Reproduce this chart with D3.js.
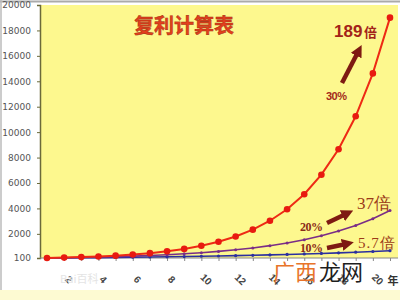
<!DOCTYPE html>
<html>
<head>
<meta charset="utf-8">
<script src="https://cdn.jsdelivr.net/npm/d3@7"></script>
<style>
  body { margin: 0; background: #fff; }
  svg { display: block; font-family: "Liberation Sans", "Noto Sans CJK SC", sans-serif; }
</style>
</head>
<body>
<svg id="chart" width="400" height="300"></svg>
<script>
// years 0..20, principal 100
const years = [0, 1, 2, 3, 4, 5, 6, 7, 8, 9, 10, 11, 12, 13, 14, 15, 16, 17, 18, 19, 20];
const rate30 = [100, 130, 169, 220, 286, 371, 483, 627, 816, 1060, 1379, 1792, 2330, 3029, 3937, 5119, 6654, 8650, 11246, 14619, 19005];
const rate20 = [100, 120, 144, 173, 207, 249, 299, 358, 430, 516, 619, 743, 892, 1070, 1284, 1541, 1849, 2219, 2662, 3195, 3834];
const rate10 = [100, 110, 121, 133, 146, 161, 177, 195, 214, 236, 259, 285, 314, 345, 380, 418, 459, 505, 556, 612, 673];
const yTicks = [100, 2000, 4000, 6000, 8000, 10000, 12000, 14000, 16000, 18000, 20000];
const xLabels = [2, 4, 6, 8, 10, 12, 14, 16, 18, 20];

const svg = d3.select("#chart");
const plot = { left: 40, right: 398, top: 5, bottom: 258 };

const x = d3.scaleLinear().domain([0, 20]).range([47, 390]);
const y = d3.scaleLinear().domain([100, 20000]).range([plot.bottom, plot.top]);

// frame + bottom strip
svg.append("rect").attr("x", 0).attr("y", 290).attr("width", 400).attr("height", 10).attr("fill", "#fdfad2");
svg.append("line").attr("x1", 0).attr("x2", 400).attr("y1", 1.5).attr("y2", 1.5).attr("stroke", "#aaa").attr("stroke-width", 2);
svg.append("line").attr("x1", 1).attr("x2", 1).attr("y1", 0).attr("y2", 290).attr("stroke", "#bbb").attr("stroke-width", 1.5);

// plot background
svg.append("rect")
  .attr("x", plot.left).attr("y", plot.top)
  .attr("width", plot.right - plot.left).attr("height", plot.bottom - plot.top)
  .attr("fill", "#fdf88e");

// y axis
const yAxis = svg.append("g")
  .attr("transform", `translate(${plot.left},0)`)
  .call(d3.axisLeft(y).tickValues(yTicks).tickFormat(d3.format("d")).tickSize(3).tickPadding(6));
yAxis.select(".domain").attr("stroke", "#6b6a3a").attr("stroke-width", 1.5);
yAxis.selectAll(".tick line").attr("stroke", "#6b6a3a");
yAxis.selectAll("text").attr("fill", "#555").attr("font-size", 9).attr("font-family", "DejaVu Sans");

// x axis
const xAxis = svg.append("g")
  .attr("transform", `translate(0,${plot.bottom})`)
  .call(d3.axisBottom(x).tickValues(years).tickSize(3).tickFormat(""));
xAxis.select(".domain").attr("d", `M${plot.left},0H${plot.right}`).attr("stroke", "#888");
xAxis.selectAll(".tick line").attr("stroke", "#888");

svg.append("g").selectAll("text")
  .data(xLabels)
  .join("text")
  .attr("transform", (d) => `translate(${x(d) - 13},${280}) rotate(45)`)
  .attr("text-anchor", "middle")
  .attr("dominant-baseline", "middle")
  .attr("font-size", 10)
  .attr("font-weight", "bold")
  .attr("fill", "#444")
  .text((d) => d);

svg.append("text")
  .attr("x", 393).attr("y", 285)
  .attr("text-anchor", "middle")
  .attr("font-family", "Noto Sans CJK SC")
  .attr("font-size", 11).attr("font-weight", "bold").attr("fill", "#333")
  .text("年");

// lines
const series = [
  { values: rate10, color: "#2b2fa0", width: 1.6, r: 1.6 },
  { values: rate20, color: "#7a2d86", width: 1.6, r: 1.5 },
  { values: rate30, color: "#ee2a14", width: 2, r: 3.3 },
];
const line = d3.line().x((d, i) => x(years[i])).y((d) => y(d));
series.forEach((s) => {
  svg.append("path")
    .datum(s.values)
    .attr("d", line)
    .attr("fill", "none")
    .attr("stroke", s.color)
    .attr("stroke-width", s.width);
  svg.append("g").selectAll("circle")
    .data(s.values)
    .join("circle")
    .attr("cx", (d, i) => x(years[i]))
    .attr("cy", (d) => y(d))
    .attr("r", s.r)
    .attr("fill", s.color === "#ee2a14" ? "#e81a10" : s.color);
});

// title
svg.append("text")
  .attr("x", 184).attr("y", 33)
  .attr("text-anchor", "middle")
  .attr("font-family", "Noto Sans CJK SC")
  .attr("font-size", 20).attr("font-weight", "bold")
  .attr("fill", "#e2401c").attr("stroke", "#a02a10").attr("stroke-width", 0.4)
  .text("复利计算表");

// arrows
const defs = svg.append("defs");
defs.append("marker")
  .attr("id", "head")
  .attr("markerUnits", "userSpaceOnUse")
  .attr("markerWidth", 12).attr("markerHeight", 12)
  .attr("viewBox", "0 0 12 12")
  .attr("refX", 4).attr("refY", 6)
  .attr("orient", "auto")
  .append("path")
  .attr("d", "M0,0 L12,6 L0,12 Z")
  .attr("fill", "#7e1a12");

const arrows = [
  [342, 83, 358, 52],
  [327, 223, 346, 214],
  [327, 248, 346, 244],
];
svg.append("g").selectAll("line")
  .data(arrows)
  .join("line")
  .attr("x1", (d) => d[0]).attr("y1", (d) => d[1])
  .attr("x2", (d) => d[2]).attr("y2", (d) => d[3])
  .attr("stroke", "#7e1a12").attr("stroke-width", 4.5)
  .attr("marker-end", "url(#head)");

// annotations
svg.append("text").attr("x", 334).attr("y", 37)
  .attr("font-family", "Liberation Sans").attr("font-size", 17).attr("font-weight", "bold")
  .attr("fill", "#a32318").text("189");
svg.append("text").attr("x", 364).attr("y", 37)
  .attr("font-family", "Noto Sans CJK SC").attr("font-size", 13).attr("font-weight", "bold")
  .attr("fill", "#a32318").text("倍");
svg.append("text").attr("x", 326).attr("y", 100)
  .attr("font-family", "Liberation Sans").attr("font-size", 11).attr("font-weight", "bold")
  .attr("fill", "#a32a1a").attr("letter-spacing", -0.5).text("30%");

svg.append("text").attr("x", 357).attr("y", 209)
  .attr("font-family", "Liberation Serif").attr("font-size", 17)
  .attr("fill", "#9b3a18").text("37倍");
svg.append("text").attr("x", 300).attr("y", 231)
  .attr("font-family", "Liberation Serif").attr("font-size", 12).attr("font-weight", "bold")
  .attr("fill", "#8a2a18").attr("letter-spacing", -0.5).text("20%");

svg.append("text").attr("x", 358).attr("y", 248)
  .attr("font-family", "Liberation Serif").attr("font-size", 15)
  .attr("fill", "#9b3a18").attr("letter-spacing", 1).text("5.7倍");
svg.append("text").attr("x", 300).attr("y", 252)
  .attr("font-family", "Liberation Serif").attr("font-size", 12).attr("font-weight", "bold")
  .attr("fill", "#8a2a18").attr("letter-spacing", -0.5).text("10%");

// watermarks
svg.append("text").attr("x", 60).attr("y", 283)
  .attr("font-family", "Noto Sans CJK SC").attr("font-size", 11)
  .attr("fill", "#e4e4e4").text("Bai百科");
svg.append("text").attr("x", 273).attr("y", 280)
  .attr("font-family", "Noto Sans CJK SC").attr("font-size", 22)
  .attr("fill", "#e8742a").text("广西");
svg.append("text").attr("x", 319).attr("y", 280)
  .attr("font-family", "Noto Sans CJK SC").attr("font-size", 22)
  .attr("fill", "#1e1e1e").text("龙网");
</script>
</body>
</html>
